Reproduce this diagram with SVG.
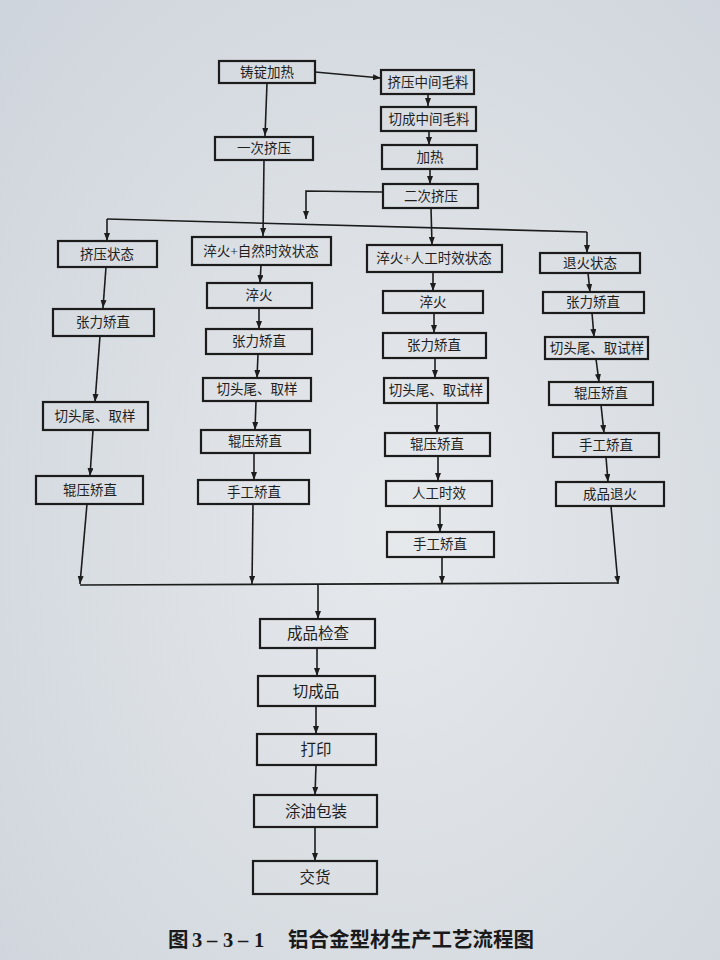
<svg xmlns="http://www.w3.org/2000/svg" width="720" height="960" viewBox="0 0 720 960">
<defs>
<radialGradient id="bg" cx="0.55" cy="0.55" r="0.75">
<stop offset="0" stop-color="#e6e9ec"/>
<stop offset="1" stop-color="#cfd5dc"/>
</radialGradient>
<marker id="ah" markerUnits="userSpaceOnUse" markerWidth="8" markerHeight="10" refX="8" refY="3" orient="auto">
<path d="M0,0 L8,3 L0,6 Z" fill="#1c1c1c"/>
</marker>
<style>
.b{fill:none;stroke:#1c1c1c;stroke-width:2.2}
.t{font-family:"Liberation Serif","Noto Sans CJK SC",serif;font-size:13.5px;fill:#1e1e1e;text-anchor:middle;dominant-baseline:central}
.tb{font-size:15.5px}
.c{fill:none;stroke:#1c1c1c;stroke-width:1.6}
.a{marker-end:url(#ah)}
.cap{font-family:"Liberation Serif","Noto Sans CJK SC",serif;font-weight:bold;font-size:20.5px;fill:#1a1a1a}
</style>
</defs>
<rect width="720" height="960" fill="url(#bg)"/>

<g id="connectors">
<path class="c a" d="M315,72 L381,78"/>
<path class="c a" d="M267,83 L265,136"/>
<path class="c a" d="M264,160 L263,236"/>
<path class="c a" d="M428,94 L428,106"/>
<path class="c a" d="M429,131 L429,145"/>
<path class="c a" d="M430,169 L430,184"/>
<path class="c a" d="M431,208 L432,245"/>
<path class="c a" d="M383,192 L306,191 L306,219"/>
<path class="c" d="M107,219 L587,232"/>
<path class="c a" d="M107,219 L107,241"/>
<path class="c a" d="M587,232 L587,253"/>
<path class="c a" d="M106,267 L103,308"/>
<path class="c a" d="M100,336 L95,402"/>
<path class="c a" d="M93,430 L90,476"/>
<path class="c a" d="M87,504 L80,584"/>
<path class="c a" d="M261,265 L260,283"/>
<path class="c a" d="M259,308 L259,329"/>
<path class="c a" d="M258,354 L257,378"/>
<path class="c a" d="M256,401 L255,430"/>
<path class="c a" d="M254,453 L254,480"/>
<path class="c a" d="M253,504 L252,584"/>
<path class="c a" d="M433,272 L433,291"/>
<path class="c a" d="M434,313 L434,333"/>
<path class="c a" d="M435,358 L435,378"/>
<path class="c a" d="M437,403 L437,433"/>
<path class="c a" d="M438,456 L438,481"/>
<path class="c a" d="M440,506 L440,532"/>
<path class="c a" d="M442,557 L442,584"/>
<path class="c a" d="M588,273 L590,292"/>
<path class="c a" d="M592,313 L594,337"/>
<path class="c a" d="M596,359 L599,382"/>
<path class="c a" d="M601,405 L604,433"/>
<path class="c a" d="M606,457 L608,482"/>
<path class="c a" d="M611,506 L618,584"/>
<path class="c" d="M80,585 L618,583"/>
<path class="c a" d="M318,584 L318,619"/>
<path class="c a" d="M317,648 L317,676"/>
<path class="c a" d="M316,706 L316,734"/>
<path class="c a" d="M316,765 L315,795"/>
<path class="c a" d="M315,827 L315,861"/>
</g>

<g id="n-zhudingjiare"><rect class="b" x="219" y="61" width="96" height="22"/><text class="t" x="267" y="72">铸锭加热</text></g>
<g id="n-jiyazhongjian"><rect class="b" x="381" y="70" width="93" height="24"/><text class="t" x="428" y="82">挤压中间毛料</text></g>
<g id="n-qiechengzhongjian"><rect class="b" x="381" y="107" width="95" height="24"/><text class="t" x="429" y="119">切成中间毛料</text></g>
<g id="n-jiare"><rect class="b" x="382" y="145" width="95" height="24"/><text class="t" x="430" y="157">加热</text></g>
<g id="n-ercijiya"><rect class="b" x="383" y="184" width="95" height="24"/><text class="t" x="431" y="196">二次挤压</text></g>
<g id="n-yicijiya"><rect class="b" x="215" y="137" width="98" height="23"/><text class="t" x="264" y="148">一次挤压</text></g>

<g id="n-c1-0"><rect class="b" x="58" y="241" width="99" height="26"/><text class="t" x="107" y="254">挤压状态</text></g>
<g id="n-c1-1"><rect class="b" x="53" y="309" width="101" height="27"/><text class="t" x="103" y="322">张力矫直</text></g>
<g id="n-c1-2"><rect class="b" x="43" y="402" width="105" height="28"/><text class="t" x="95" y="416">切头尾、取样</text></g>
<g id="n-c1-3"><rect class="b" x="36" y="476" width="107" height="28"/><text class="t" x="90" y="490">辊压矫直</text></g>

<g id="n-c2-0"><rect class="b" x="192" y="237" width="139" height="28"/><text class="t" x="261" y="251">淬火+自然时效状态</text></g>
<g id="n-c2-1"><rect class="b" x="207" y="283" width="105" height="25"/><text class="t" x="259" y="295">淬火</text></g>
<g id="n-c2-2"><rect class="b" x="206" y="329" width="106" height="25"/><text class="t" x="259" y="341">张力矫直</text></g>
<g id="n-c2-3"><rect class="b" x="203" y="378" width="108" height="23"/><text class="t" x="257" y="389">切头尾、取样</text></g>
<g id="n-c2-4"><rect class="b" x="201" y="430" width="109" height="23"/><text class="t" x="255" y="441">辊压矫直</text></g>
<g id="n-c2-5"><rect class="b" x="198" y="480" width="111" height="24"/><text class="t" x="254" y="492">手工矫直</text></g>

<g id="n-c3-0"><rect class="b" x="367" y="245" width="135" height="27"/><text class="t" x="434" y="258">淬火+人工时效状态</text></g>
<g id="n-c3-1"><rect class="b" x="383" y="291" width="100" height="22"/><text class="t" x="433" y="302">淬火</text></g>
<g id="n-c3-2"><rect class="b" x="383" y="333" width="103" height="25"/><text class="t" x="434" y="345">张力矫直</text></g>
<g id="n-c3-3"><rect class="b" x="384" y="378" width="104" height="25"/><text class="t" x="436" y="390">切头尾、取试样</text></g>
<g id="n-c3-4"><rect class="b" x="385" y="433" width="105" height="23"/><text class="t" x="437" y="444">辊压矫直</text></g>
<g id="n-c3-5"><rect class="b" x="386" y="481" width="106" height="25"/><text class="t" x="439" y="493">人工时效</text></g>
<g id="n-c3-6"><rect class="b" x="387" y="532" width="107" height="25"/><text class="t" x="440" y="544">手工矫直</text></g>

<g id="n-c4-0"><rect class="b" x="540" y="253" width="100" height="20"/><text class="t" x="590" y="263">退火状态</text></g>
<g id="n-c4-1"><rect class="b" x="543" y="292" width="101" height="21"/><text class="t" x="593" y="302">张力矫直</text></g>
<g id="n-c4-2"><rect class="b" x="545" y="337" width="103" height="22"/><text class="t" x="597" y="348">切头尾、取试样</text></g>
<g id="n-c4-3"><rect class="b" x="549" y="382" width="104" height="23"/><text class="t" x="601" y="393">辊压矫直</text></g>
<g id="n-c4-4"><rect class="b" x="553" y="433" width="106" height="24"/><text class="t" x="606" y="445">手工矫直</text></g>
<g id="n-c4-5"><rect class="b" x="556" y="482" width="108" height="24"/><text class="t" x="610" y="494">成品退火</text></g>

<g id="n-jiancha"><rect class="b" x="260" y="619" width="115" height="29"/><text class="t tb" x="318" y="633">成品检查</text></g>
<g id="n-qiechengpin"><rect class="b" x="258" y="676" width="117" height="30"/><text class="t tb" x="316" y="691">切成品</text></g>
<g id="n-dayin"><rect class="b" x="257" y="734" width="119" height="31"/><text class="t tb" x="316" y="749">打印</text></g>
<g id="n-tuyou"><rect class="b" x="254" y="795" width="123" height="32"/><text class="t tb" x="316" y="811">涂油包装</text></g>
<g id="n-jiaohuo"><rect class="b" x="253" y="861" width="124" height="33"/><text class="t tb" x="315" y="877">交货</text></g>

<text class="cap" y="947"><tspan x="168">图</tspan><tspan x="192">3</tspan><tspan x="207">–</tspan><tspan x="223">3</tspan><tspan x="238">–</tspan><tspan x="254">1</tspan><tspan x="288">铝合金型材生产工艺流程图</tspan></text>
</svg>
